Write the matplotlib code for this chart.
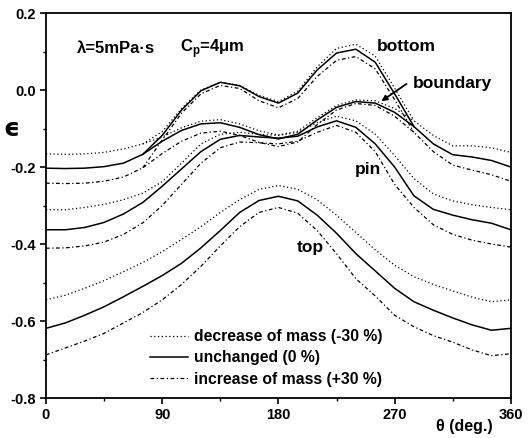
import matplotlib
matplotlib.use('Agg')
from matplotlib import pyplot as plt
from matplotlib.ticker import MultipleLocator

plt.rcParams['font.family'] = ['Liberation Sans', 'DejaVu Sans']
plt.rcParams['font.weight'] = 'bold'

# theta grid (deg.)
theta = [0, 15, 30, 45, 60, 75, 90, 105, 120, 135, 150, 165, 180,
         195, 210, 225, 240, 255, 270, 285, 300, 315, 330, 345, 360]
theta_bottom = [75, 90, 105, 120, 135, 150, 165, 180, 195, 210, 225, 240, 255, 270, 285]

# boundary
boundary_dec = [-0.166, -0.167, -0.166, -0.162, -0.153, -0.140, -0.122, -0.098, -0.081, -0.077,
                -0.088, -0.106, -0.117, -0.107, -0.072, -0.040, -0.026, -0.028, -0.048, -0.080,
                -0.118, -0.145, -0.145, -0.150, -0.162]
boundary_0 = [-0.203, -0.204, -0.203, -0.199, -0.190, -0.167, -0.133, -0.105, -0.088, -0.085,
              -0.097, -0.116, -0.127, -0.115, -0.078, -0.045, -0.030, -0.034, -0.058, -0.095,
              -0.140, -0.168, -0.174, -0.183, -0.200]
boundary_inc = [-0.242, -0.243, -0.242, -0.237, -0.226, -0.202, -0.165, -0.133, -0.112, -0.107,
                -0.118, -0.136, -0.147, -0.135, -0.090, -0.052, -0.035, -0.040, -0.068, -0.110,
                -0.160, -0.195, -0.208, -0.220, -0.237]

# bottom (splits off the boundary curves)
bottom_dec = [-0.140, -0.108, -0.048, 0.000, 0.020, 0.012, -0.014, -0.030, -0.003, 0.060,
              0.108, 0.119, 0.088, 0.005, -0.080]
bottom_0 = [-0.167, -0.118, -0.052, -0.002, 0.020, 0.011, -0.017, -0.034, -0.008, 0.052,
            0.096, 0.106, 0.072, -0.010, -0.095]
bottom_inc = [-0.202, -0.130, -0.060, -0.010, 0.012, 0.004, -0.028, -0.046, -0.022, 0.035,
              0.077, 0.087, 0.055, -0.025, -0.110]

# pin
pin_dec = [-0.311, -0.311, -0.305, -0.297, -0.285, -0.268, -0.238, -0.190, -0.140, -0.115,
           -0.110, -0.115, -0.118, -0.110, -0.085, -0.068, -0.080, -0.115, -0.170, -0.230,
           -0.270, -0.288, -0.298, -0.305, -0.311]
pin_0 = [-0.363, -0.363, -0.357, -0.344, -0.322, -0.292, -0.250, -0.205, -0.160, -0.128,
         -0.118, -0.122, -0.125, -0.120, -0.096, -0.080, -0.097, -0.140, -0.200, -0.275,
         -0.310, -0.325, -0.337, -0.346, -0.363]
pin_inc = [-0.411, -0.410, -0.405, -0.395, -0.375, -0.345, -0.300, -0.245, -0.190, -0.150,
           -0.135, -0.137, -0.140, -0.133, -0.110, -0.092, -0.110, -0.160, -0.245, -0.305,
           -0.350, -0.375, -0.390, -0.400, -0.408]

# top
top_dec = [-0.545, -0.533, -0.515, -0.495, -0.472, -0.448, -0.420, -0.388, -0.355, -0.318,
           -0.285, -0.258, -0.248, -0.258, -0.285, -0.325, -0.370, -0.415, -0.455, -0.485,
           -0.505, -0.522, -0.538, -0.550, -0.545]
top_0 = [-0.619, -0.605, -0.585, -0.563, -0.537, -0.510, -0.482, -0.450, -0.410, -0.365,
         -0.318, -0.287, -0.276, -0.288, -0.325, -0.372, -0.425, -0.470, -0.515, -0.550,
         -0.572, -0.592, -0.610, -0.624, -0.619]
top_inc = [-0.688, -0.670, -0.652, -0.632, -0.605, -0.578, -0.545, -0.505, -0.458, -0.405,
           -0.355, -0.318, -0.305, -0.320, -0.365, -0.425, -0.490, -0.535, -0.585, -0.615,
           -0.638, -0.655, -0.675, -0.690, -0.685]

DEC = dict(color='black', lw=0.9, linestyle=(0, (1, 2)))
ZERO = dict(color='black', lw=1.1, linestyle='-')
INC = dict(color='black', lw=0.9, linestyle=(0, (3, 2, 1, 2)))

fig = plt.figure(figsize=(5.31, 4.38), dpi=100)
ax = fig.add_axes([0.0866, 0.0913, 0.8754, 0.879])

for dec, zero, inc, x in [(boundary_dec, boundary_0, boundary_inc, theta),
                          (bottom_dec, bottom_0, bottom_inc, theta_bottom),
                          (pin_dec, pin_0, pin_inc, theta),
                          (top_dec, top_0, top_inc, theta)]:
    ax.plot(x, dec, **DEC)
    ax.plot(x, zero, **ZERO)
    ax.plot(x, inc, **INC)

# legend handles
h1, = ax.plot([], [], label='decrease of mass (-30 %)', **DEC)
h2, = ax.plot([], [], label='unchanged (0 %)', **ZERO)
h3, = ax.plot([], [], label='increase of mass (+30 %)', **INC)
ax.legend(handles=[h1, h2, h3], loc='upper left', bbox_to_anchor=(0.21, 0.195),
          frameon=False, handlelength=2.4, handletextpad=0.4, labelspacing=0.4,
          borderaxespad=0, prop={'weight': 'bold', 'size': 11.3})

ax.set_xlim(0, 360)
ax.set_ylim(-0.8, 0.2)
ax.xaxis.set_major_locator(MultipleLocator(90))
ax.xaxis.set_minor_locator(MultipleLocator(45))
ax.yaxis.set_major_locator(MultipleLocator(0.2))
ax.yaxis.set_minor_locator(MultipleLocator(0.1))
ax.set_yticklabels(['%.1f' % v for v in ax.get_yticks()])
ax.tick_params(which='both', direction='out', labelsize=10.5)
ax.tick_params(which='major', length=4, width=1.2)
ax.tick_params(which='minor', length=2.5, width=1)
for lab in ax.get_xticklabels() + ax.get_yticklabels():
    lab.set_fontweight('bold')
for sp in ax.spines.values():
    sp.set_linewidth(1.3)

ax.text(-0.075, 0.70, 'ϵ', transform=ax.transAxes, fontsize=18, fontweight='bold',
        ha='center', va='center', family=['DejaVu Sans'])
ax.text(0.96, -0.075, 'θ (deg.)', transform=ax.transAxes, fontsize=11.5, fontweight='bold',
        ha='right', va='center')

ax.text(24, 0.108, 'λ=5mPa·s', fontsize=12, fontweight='bold', va='center')
ax.text(104, 0.108, r'C$_\mathregular{p}$=4μm', fontsize=12, fontweight='bold', va='center')
ax.text(256, 0.113, 'bottom', fontsize=12.5, fontweight='bold', va='center')
ax.text(284, 0.018, 'boundary', fontsize=12.5, fontweight='bold', va='center')
ax.annotate('', xy=(258, -0.033), xytext=(281, 0.020),
            arrowprops=dict(arrowstyle='-|>', color='black', lw=1.3, mutation_scale=8))
ax.text(239, -0.206, 'pin', fontsize=12.5, fontweight='bold', va='center')
ax.text(194, -0.41, 'top', fontsize=12.5, fontweight='bold', va='center')

fig.savefig('out.png', dpi=100)
